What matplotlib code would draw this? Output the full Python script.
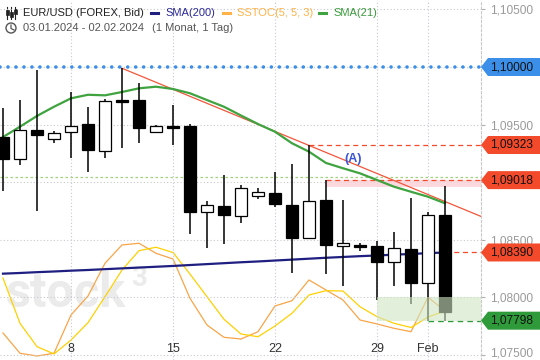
import matplotlib
matplotlib.use("Agg")
import matplotlib.pyplot as plt
from matplotlib.patches import Polygon, Rectangle, Circle
from matplotlib.transforms import Affine2D, blended_transform_factory, ScaledTranslation

plt.rcParams['font.family'] = ['Liberation Sans', 'DejaVu Sans']

# ---------------- data ----------------
dates = ["2024-01-03", "2024-01-04", "2024-01-05", "2024-01-07", "2024-01-08", "2024-01-09",
         "2024-01-10", "2024-01-11", "2024-01-12", "2024-01-14", "2024-01-15", "2024-01-16",
         "2024-01-17", "2024-01-18", "2024-01-19", "2024-01-21", "2024-01-22", "2024-01-23",
         "2024-01-24", "2024-01-25", "2024-01-26", "2024-01-28", "2024-01-29", "2024-01-30",
         "2024-01-31", "2024-02-01", "2024-02-02"]
open_ = [1.09390, 1.09199, 1.09453, 1.09378, 1.09433, 1.09505, 1.09268, 1.09713, 1.09713,
         1.09433, 1.09485, 1.09485, 1.08739, 1.08793, 1.08709, 1.08878, 1.08904, 1.08802,
         1.08513, 1.08848, 1.08449, 1.08455, 1.08444, 1.08310, 1.08420, 1.08122, 1.08713]
high = [1.09641, 1.09713, 1.09974, 1.09447, 1.09780, 1.09650, 1.09722, 1.09989, 1.09858,
        1.09496, 1.09670, 1.09505, 1.08837, 1.09062, 1.08976, 1.08947, 1.09091, 1.09155,
        1.09323, 1.09018, 1.08845, 1.08475, 1.08487, 1.08568, 1.08861, 1.08744, 1.08967]
low = [1.08926, 1.09149, 1.08753, 1.09343, 1.09213, 1.09091, 1.09213, 1.09299, 1.09343,
       1.09425, 1.09323, 1.08548, 1.08431, 1.08461, 1.08648, 1.08852, 1.08787, 1.08209,
       1.08504, 1.08203, 1.08099, 1.08405, 1.07977, 1.08099, 1.07943, 1.07798, 1.07798]
close = [1.09199, 1.09450, 1.09412, 1.09427, 1.09485, 1.09277, 1.09702, 1.09696, 1.09473,
         1.09485, 1.09473, 1.08744, 1.08799, 1.08713, 1.08947, 1.08912, 1.08808, 1.08513,
         1.08837, 1.08457, 1.08470, 1.08437, 1.08310, 1.08426, 1.08128, 1.08713, 1.07876]
sma21 = [1.09392, 1.09482, 1.09575, 1.09655, 1.09728, 1.09759, 1.09754, 1.09783, 1.09815,
         1.09829, 1.09809, 1.09772, 1.09713, 1.09655, 1.09579, 1.09505, 1.09438, 1.09338,
         1.09265, 1.09167, 1.09121, 1.09077, 1.09019, 1.08961, 1.08917, 1.08874, 1.08817]
sma200 = [1.08206, 1.08212, 1.08219, 1.08225, 1.08232, 1.08238, 1.08245, 1.08252, 1.08259,
          1.08266, 1.08273, 1.08281, 1.08289, 1.08297, 1.08305, 1.08312, 1.08320, 1.08328,
          1.08336, 1.08344, 1.08351, 1.08358, 1.08364, 1.08371, 1.08377, 1.08384, 1.08390]
stoch_k = [20.2, 2.4, 0.0, 2.4, 36.0, 52.6, 81.3, 97.4, 98.9, 90.1, 85.1, 50.6, 27.2, 16.4,
           14.9, 21.3, 43.9, 48.5, 66.7, 57.9, 49.1, 31.6, 28.1, 24.3, 21.3, 51.5, 39.5]
stoch_d = [68.4, 28.7, 8.2, 1.8, 14.0, 29.2, 52.0, 75.4, 92.4, 95.4, 90.8, 71.9, 52.0, 32.2,
           19.3, 16.9, 26.3, 37.5, 53.5, 57.3, 57.0, 43.2, 34.5, 28.7, 25.0, 34.2, 39.5]

tick_dates = ["2024-01-08", "2024-01-15", "2024-01-22", "2024-01-29", "2024-02-01"]
tick_labels = ["8", "15", "22", "29", "Feb"]
ytick_values = [1.075, 1.080, 1.085, 1.090, 1.095, 1.100, 1.105]

level_round = 1.10000
level_a = 1.09323
level_a_date = "2024-01-24"
level_b = 1.09018
level_b_low = 1.08961
level_b_date = "2024-01-25"
level_green_dotted = 1.09048
level_low = 1.07798
level_low_date = "2024-02-01"
zone_top = 1.08000
zone_date = "2024-01-29"
trend_dates = ["2024-01-11", "2024-02-02"]
trend_values = [1.09989, 1.08832]
label_a_date = "2024-01-26"
label_a_value = 1.09201

tags = [(level_round, "#3b8fe8"), (level_a, "#f24a2b"), (level_b, "#f24a2b"),
        (sma200[-1], "#f24a2b"), (level_low, "#2e9a3a")]

# ---------------- figure ----------------
W, H = 540, 360
fig = plt.figure(figsize=(W / 100, H / 100), dpi=100)
fig.patch.set_facecolor("white")
ax = fig.add_axes([0, 0, 481 / W, 1])
ax2 = ax.twinx()
ax.set_zorder(2)
ax2.set_zorder(1)
ax.patch.set_visible(False)

xs = list(range(len(dates)))
idx = {d: i for i, d in enumerate(dates)}
XMIN, XMAX = -0.176, 28.118
YMIN, YMAX = 1.074566, 1.105816
ax.set_xlim(XMIN, XMAX)
ax.set_ylim(YMIN, YMAX)
ax2.set_ylim(-3.51, 312.28)
ax2.axis("off")

# watermark
ax2.text(0.012, 0.148, "stock", transform=ax2.transAxes, fontsize=35, fontweight="bold",
         family="Roboto", color="#ebebeb", ha="left", va="baseline", zorder=0)
ax2.text(0.272, 0.205, "3", transform=ax2.transAxes, fontsize=20, fontweight="bold",
         family="Roboto", color="#ebebeb", ha="left", va="baseline", zorder=0)

# stochastic
ax2.plot(xs, stoch_k, color="#f8a548", lw=0.9, zorder=2)
ax2.plot(xs, stoch_d, color="#ffd000", lw=0.9, zorder=2)

# grid
ax.set_xticks([idx[d] for d in tick_dates])
ax.set_xticklabels([])
ax.tick_params(axis="x", length=0)
ax.grid(True, linestyle=(0, (1, 2)), color="#c8c8d2", lw=0.8, zorder=0)
ax.set_axisbelow(True)

# y axis on the right (labels hidden where a price tag covers them)
hh = 9 * (YMAX - YMIN) / H
ax.yaxis.tick_right()
ax.set_yticks(ytick_values)
ylabels = []
for v in ytick_values:
    covered = any(abs(v - t) < hh for t, _ in tags)
    ylabels.append("" if covered else f"{v:.5f}".replace(".", ","))
ax.set_yticklabels(ylabels)
ax.tick_params(axis="y", length=3, color="#b0b0b0", pad=3.5, labelsize=8.6,
               labelcolor="#9a9a9a")
# keep the lowest label fully inside the canvas
lowest = ax.get_yticklabels()[0]
lowest.set_transform(lowest.get_transform() + ScaledTranslation(0, 2.5 / 72,
                                                                fig.dpi_scale_trans))
for s in ["left", "top", "bottom"]:
    ax.spines[s].set_visible(False)
ax.spines["right"].set_color("#c8c8c8")
ax.spines["right"].set_linestyle((0, (2, 2)))
ax.spines["right"].set_linewidth(0.8)

xtr = blended_transform_factory(ax.transData, ax.transAxes)
for d, lab in zip(tick_dates, tick_labels):
    ax.text(idx[d], 0.031, lab, transform=xtr, ha="center", va="center",
            fontsize=9, color="#333333")

# horizontal levels
ax.plot([XMIN, XMAX], [level_round, level_round], color="#3b8fe8", lw=2.6,
        linestyle=(0, (0.01, 2.2)), dash_capstyle="round", zorder=3)
ax.plot([XMIN, XMAX], [level_green_dotted] * 2, color="#9fd27f", lw=0.9,
        linestyle=(0, (2, 2)), zorder=1)
ax.add_patch(Rectangle((idx[level_b_date], level_b_low), XMAX - idx[level_b_date],
                       level_b - level_b_low, facecolor="#fbd3da", edgecolor="none",
                       alpha=0.85, zorder=1))
ax.plot([idx[level_a_date], XMAX], [level_a] * 2, color="#f24a2b", lw=0.9,
        linestyle=(0, (4, 3)), zorder=3)
ax.plot([idx[level_b_date], XMAX], [level_b] * 2, color="#f24a2b", lw=0.9,
        linestyle=(0, (4, 3)), zorder=3)
ax.plot([xs[-1], XMAX], [sma200[-1]] * 2, color="#f24a2b", lw=0.9,
        linestyle=(0, (4, 3)), zorder=3)
ax.plot([idx[level_low_date], XMAX], [level_low] * 2, color="#2e9a3a", lw=1.0,
        linestyle=(0, (4, 3)), zorder=3)

# trend line
t0, t1 = idx[trend_dates[0]], idx[trend_dates[1]]
slope = (trend_values[1] - trend_values[0]) / (t1 - t0)
ax.plot([t0, XMAX], [trend_values[0], trend_values[0] + slope * (XMAX - t0)],
        color="#f2553a", lw=0.9, zorder=4)
ax.text(idx[label_a_date] + 0.57, label_a_value, "(A)", color="#3a55d4", fontsize=9,
        fontweight="bold", ha="center", va="center", zorder=6)

# moving averages
ax.plot(xs, sma200, color="#1f1f82", lw=1.6, zorder=4)
ax.plot(xs, sma21, color="#3fa33f", lw=1.6, zorder=4)

# candles
for i in xs:
    o, h, l, c = open_[i], high[i], low[i], close[i]
    ax.vlines(i, l, h, color="black", lw=1.1, zorder=5)
    bull = c >= o
    ax.bar(i, abs(c - o), bottom=min(o, c), width=0.72,
           color="white" if bull else "black", edgecolor="black", lw=0.9, zorder=6)

# green zone (on top, translucent)
ax.add_patch(Rectangle((idx[zone_date], level_low), XMAX - idx[zone_date],
                       zone_top - level_low, facecolor="#cfe6c4", edgecolor="none",
                       alpha=0.6, zorder=7))

# price tags on the right
ytr = blended_transform_factory(ax.transAxes, ax.transData)
aw = 481.0
for v, col in tags:
    verts = [(1.0, v), (488 / aw, v + hh), (540 / aw, v + hh), (540 / aw, v - hh),
             (488 / aw, v - hh)]
    ax.add_patch(Polygon(verts, closed=True, transform=ytr, facecolor=col,
                         edgecolor="none", clip_on=False, zorder=10))
    ax.text(490.5 / aw, v, f"{v:.5f}".replace(".", ","), transform=ytr, ha="left",
            va="center", fontsize=8.6, color="#111111", clip_on=False, zorder=11)

# header (pixel coordinates from top-left)
px = Affine2D().scale(1, -1).translate(0, H)


def ftext(x, y, s, **kw):
    fig.text(x, y, s, transform=px, va="center", ha="left", fontsize=8, **kw)


# candle icon
for cx, b0, b1 in [(7.3, 10, 15), (11.3, 12, 17), (15.3, 9, 14)]:
    fig.add_artist(plt.Line2D([cx, cx], [7, 19], transform=px, color="#222", lw=0.8))
    fig.add_artist(Rectangle((cx - 1.3, b0), 2.6, b1 - b0, transform=px,
                             facecolor="#222", edgecolor="#222", lw=0.5))
ftext(23.3, 13, "EUR/USD (FOREX, Bid)", color="#222222")
fig.add_artist(plt.Line2D([151, 158], [13, 13], transform=px, color="#1f1f82", lw=2.2))
ftext(165, 13, "SMA(200)", color="#2a2a96")
fig.add_artist(plt.Line2D([223, 230], [13, 13], transform=px, color="#ffb347", lw=2.2))
ftext(236.7, 13, "SSTOC(5, 5, 3)", color="#ffb347")
fig.add_artist(plt.Line2D([319, 326], [13, 13], transform=px, color="#3fa33f", lw=2.2))
ftext(333, 13, "SMA(21)", color="#3a9a3a")

# clock icon
fig.add_artist(Circle((11, 28), 5, transform=px, facecolor="none", edgecolor="#555",
                      lw=1.0))
fig.add_artist(plt.Line2D([11, 11, 14], [25, 28.5, 30], transform=px, color="#555",
                          lw=0.9))
ftext(23.3, 28, "03.01.2024 - 02.02.2024", color="#555555")
ftext(152, 28, "(1 Monat, 1 Tag)", color="#555555")

fig.savefig("out.png", dpi=100, facecolor="white")
